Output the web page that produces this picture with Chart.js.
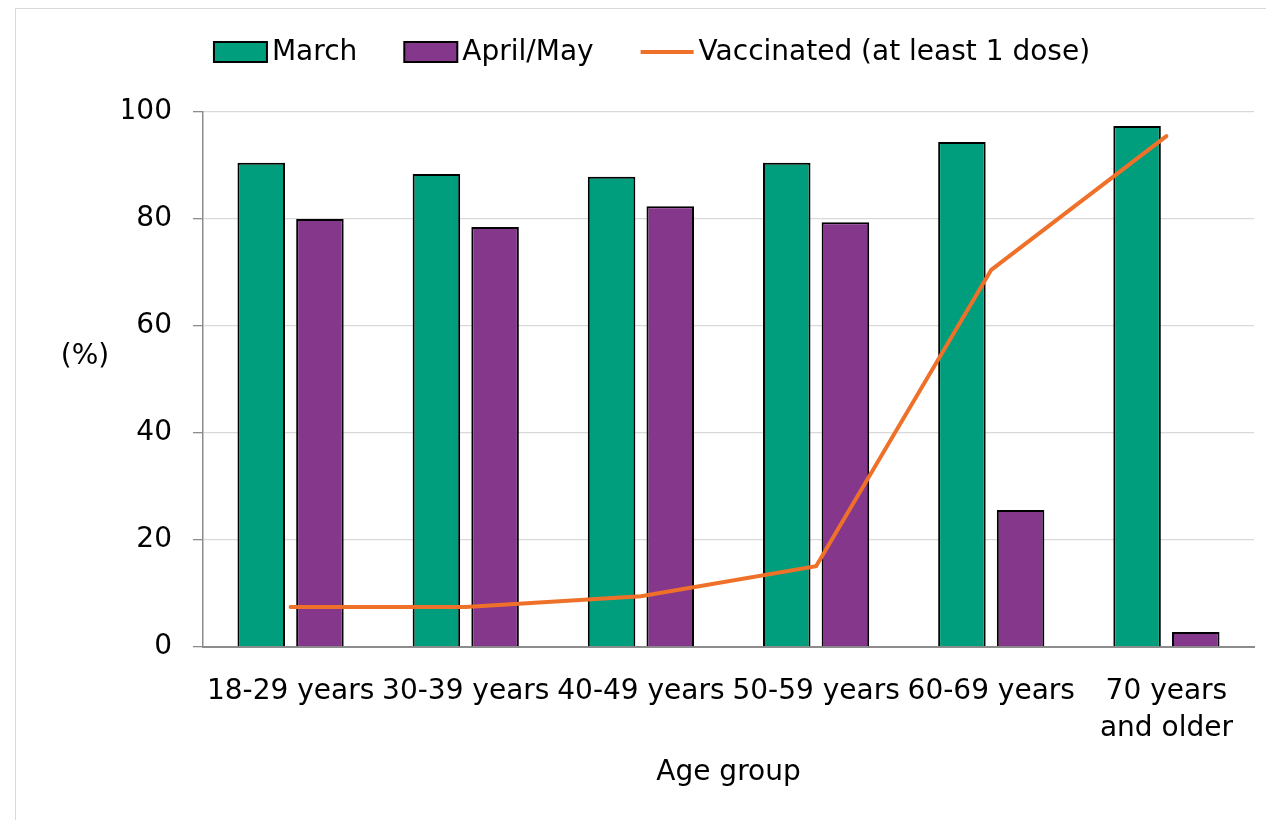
<!DOCTYPE html>
<html>
<head>
<meta charset="utf-8">
<script src="https://cdn.jsdelivr.net/npm/chart.js@4/dist/chart.umd.min.js"></script>
<style>
  html, body { margin: 0; padding: 0; background: #fff; }
  #wrap { position: relative; width: 1266px; height: 820px; overflow: hidden; }
  #frame {
    position: absolute; left: 15px; top: 8px; width: 1300px; height: 900px;
    border-left: 1px solid #d9d9d9; border-top: 1px solid #d9d9d9;
  }
  canvas { position: absolute; left: 0; top: 0; }
</style>
</head>
<body>
<div id="wrap">
  <div id="frame"></div>
  <canvas id="chart" width="1266" height="820"></canvas>
</div>
<script>
/* ---- Data ---------------------------------------------------------------- */

const ageGroups = [
  "18-29 years",
  "30-39 years",
  "40-49 years",
  "50-59 years",
  "60-69 years",
  ["70 years", "and older"],
];
const marchValues = [90.5, 88.4, 87.9, 90.5, 94.4, 97.4];
const aprilMayValues = [80.0, 78.5, 82.4, 79.4, 25.6, 2.8];
const vaccinatedValues = [7.5, 7.5, 9.5, 15.1, 70.5, 95.5];
const yTicks = [0, 20, 40, 60, 80, 100];

/* ---- Theme --------------------------------------------------------------- */

const FONT = "'DejaVu Sans', Verdana, sans-serif";
const FONT_SIZE = 28;
const GREEN = "#009e7c";
const PURPLE = "#84378b";
const ORANGE = "#ef7129";

Chart.defaults.font.family = FONT;
Chart.defaults.font.size = FONT_SIZE;
Chart.defaults.color = "#000";

/* ---- Plugins: legend row + "(%)" label ----------------------------------- */

const legendRow = {
  id: "legendRow",
  afterDraw(chart) {
    const ctx = chart.ctx;
    const boxW = 53, boxH = 20, gap = 5, itemGap = 47;
    const y = 52;
    ctx.save();
    ctx.font = `${FONT_SIZE}px ${FONT}`;
    ctx.textBaseline = "middle";
    const items = chart.data.datasets.map((ds) => ({
      label: ds.label,
      type: ds.type,
      fill: ds.backgroundColor,
      stroke: ds.borderColor,
      width: boxW + gap + ctx.measureText(ds.label).width,
    }));
    const total = items.reduce((s, it) => s + it.width, 0) + itemGap * (items.length - 1);
    let x = 652 - total / 2;
    items.forEach((it) => {
      if (it.type === "line") {
        ctx.strokeStyle = it.stroke;
        ctx.lineWidth = 4;
        ctx.beginPath();
        ctx.moveTo(x, y);
        ctx.lineTo(x + boxW, y);
        ctx.stroke();
      } else {
        ctx.fillStyle = it.fill;
        ctx.fillRect(x, y - boxH / 2, boxW, boxH);
        ctx.strokeStyle = "#000";
        ctx.lineWidth = 2;
        ctx.strokeRect(x, y - boxH / 2, boxW, boxH);
      }
      ctx.fillStyle = "#000";
      ctx.textAlign = "left";
      ctx.fillText(it.label, x + boxW + gap, y + 1);
      x += it.width + itemGap;
    });
    ctx.restore();
  },
};

const percentLabel = {
  id: "percentLabel",
  afterDraw(chart) {
    const { ctx, chartArea } = chart;
    ctx.save();
    ctx.font = `${FONT_SIZE}px ${FONT}`;
    ctx.fillStyle = "#000";
    ctx.textAlign = "center";
    ctx.textBaseline = "middle";
    ctx.fillText("(%)", chartArea.left - 118, (chartArea.top + chartArea.bottom) / 2 - 23);
    ctx.restore();
  },
};

/* ---- Chart --------------------------------------------------------------- */

new Chart(document.getElementById("chart").getContext("2d"), {
  type: "bar",
  data: {
    labels: ageGroups,
    datasets: [
      {
        type: "bar",
        label: "March",
        data: marchValues,
        backgroundColor: GREEN,
        borderColor: "#000",
        borderWidth: 2,
        categoryPercentage: 0.67,
        barPercentage: 0.81,
        order: 1,
      },
      {
        type: "bar",
        label: "April/May",
        data: aprilMayValues,
        backgroundColor: PURPLE,
        borderColor: "#000",
        borderWidth: 2,
        categoryPercentage: 0.67,
        barPercentage: 0.81,
        order: 1,
      },
      {
        type: "line",
        label: "Vaccinated (at least 1 dose)",
        data: vaccinatedValues,
        borderColor: ORANGE,
        backgroundColor: ORANGE,
        borderWidth: 4,
        pointRadius: 0,
        tension: 0,
        borderCapStyle: "round",
        order: 0,
      },
    ],
  },
  options: {
    responsive: false,
    animation: false,
    layout: { padding: { left: 123, right: 12, top: 112, bottom: 28 } },
    plugins: {
      legend: { display: false },
      tooltip: { enabled: false },
    },
    scales: {
      x: {
        afterFit: (scale) => {
          scale.height = 145;
        },
        grid: { display: false, drawTicks: false },
        border: { display: true, color: "#8c8c8c", width: 2 },
        ticks: {
          autoSkip: false,
          maxRotation: 0,
          padding: 26,
          color: "#000",
          font: { size: FONT_SIZE, lineHeight: 1.32 },
        },
        title: {
          display: true,
          text: "Age group",
          color: "#000",
          font: { size: FONT_SIZE, lineHeight: 1.2 },
          padding: { top: 12, bottom: 2 },
        },
      },
      y: {
        min: 0,
        max: 100,
        afterBuildTicks: (scale) => {
          scale.ticks = yTicks.map((v) => ({ value: v }));
        },
        afterFit: (scale) => {
          scale.width = 80;
        },
        grid: {
          color: "#d9d9d9",
          lineWidth: 1.3,
          tickColor: "#8c8c8c",
          tickLength: 10,
        },
        border: { display: true, color: "#8c8c8c", width: 1.5 },
        ticks: {
          padding: 21,
          color: "#000",
          font: { size: FONT_SIZE },
        },
      },
    },
  },
  plugins: [legendRow, percentLabel],
});
</script>
</body>
</html>
